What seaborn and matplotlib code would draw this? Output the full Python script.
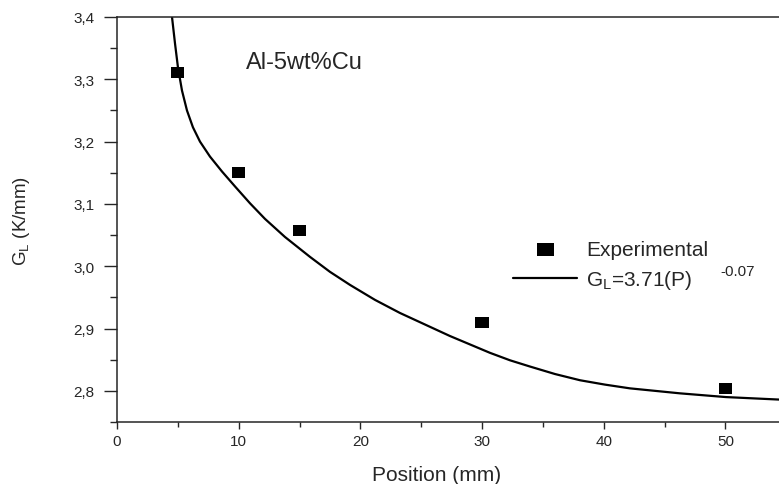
import numpy as np
import pandas as pd
import matplotlib
matplotlib.use("Agg")
import matplotlib.pyplot as plt
import seaborn as sns
from matplotlib.ticker import MultipleLocator, FuncFormatter

# measured points
pos_mm = [5, 10, 15, 30, 50]
gl_exp = [3.311, 3.150, 3.057, 2.910, 2.804]

# fitted curve
fit_x = [4.52, 4.77, 5.01, 5.34, 5.75, 6.24, 6.82, 7.64, 8.63, 9.70, 10.93,
         12.16, 13.80, 15.86, 17.50, 19.15, 21.20, 23.25, 27.36, 30.65, 32.30,
         33.94, 35.99, 38.05, 40.10, 42.15, 46.26, 50.04, 54.40]
fit_y = [3.400, 3.357, 3.319, 3.282, 3.250, 3.223, 3.200, 3.176, 3.152, 3.128,
         3.101, 3.076, 3.047, 3.015, 2.991, 2.970, 2.946, 2.925, 2.888, 2.861,
         2.849, 2.839, 2.827, 2.817, 2.810, 2.804, 2.796, 2.790, 2.786]

sns.set_style("ticks")
plt.rcParams['font.family'] = ['Liberation Sans', 'DejaVu Sans']
plt.rcParams['mathtext.fontset'] = 'custom'
plt.rcParams['mathtext.rm'] = 'Liberation Sans'
plt.rcParams['mathtext.it'] = 'Liberation Sans'

fig = plt.figure(figsize=(7.79, 4.85), dpi=100)
ax = fig.add_axes([117/779, 1 - 423/485, 1 - 117/779, (423 - 18)/485])

exp_df = pd.DataFrame({"x": pos_mm, "y": gl_exp})
fit_df = pd.DataFrame({"x": fit_x, "y": fit_y})

rect = [(-1.25, -1), (1.25, -1), (1.25, 1), (-1.25, 1), (-1.25, -1)]
sns.lineplot(data=fit_df, x="x", y="y", ax=ax, color="black", lw=1.6,
             sort=False, zorder=2, label=r"G$_{\rm L}$=3.71(P)")
sns.scatterplot(data=exp_df, x="x", y="y", ax=ax, marker=rect, s=90,
                color="black", edgecolor="none", zorder=3, label="Experimental")

ax.set_xlim(0, 54.4)
ax.set_ylim(2.75, 3.4)
ax.xaxis.set_major_locator(MultipleLocator(10))
ax.xaxis.set_minor_locator(MultipleLocator(5))
ax.yaxis.set_major_locator(MultipleLocator(0.1))
ax.yaxis.set_minor_locator(MultipleLocator(0.05))
ax.yaxis.set_major_formatter(FuncFormatter(lambda v, p: f"{v:.1f}".replace('.', ',')))

ax.spines['right'].set_visible(False)
for s in ['left', 'bottom', 'top']:
    ax.spines[s].set_linewidth(1.1)
ax.tick_params(axis='y', which='major', length=9.4, width=1, labelsize=11, pad=7)
ax.tick_params(axis='y', which='minor', length=5, width=1)
ax.tick_params(axis='x', which='major', length=5, width=1, labelsize=11, pad=4)
ax.tick_params(axis='x', which='minor', length=3.6, width=1)

ax.set_xlabel("Position (mm)", fontsize=15)
ax.xaxis.set_label_coords(0.482, -0.106)
ax.set_ylabel(r"G$_{\rm L}$ (K/mm)", fontsize=13.5)
ax.yaxis.set_label_coords(-0.128, 0.5)

ax.text(10.6, 3.327, "Al-5wt%Cu", fontsize=17, ha="left", va="center")

h, l = ax.get_legend_handles_labels()
order = [l.index("Experimental"), 1 - l.index("Experimental")]
ax.legend([h[i] for i in order], [l[i] for i in order], loc="center left",
          bbox_to_anchor=(0.598, 0.386), frameon=False, fontsize=15,
          handlelength=3.1, handletextpad=0.4, labelspacing=0.45,
          borderpad=0, borderaxespad=0, markerscale=1.3)
# exponent of the fit, set off to the right of the legend label
ax.text(0.911, 0.373, "-0.07", transform=ax.transAxes, fontsize=11,
        ha="left", va="center")

fig.savefig("out.png", dpi=100)
